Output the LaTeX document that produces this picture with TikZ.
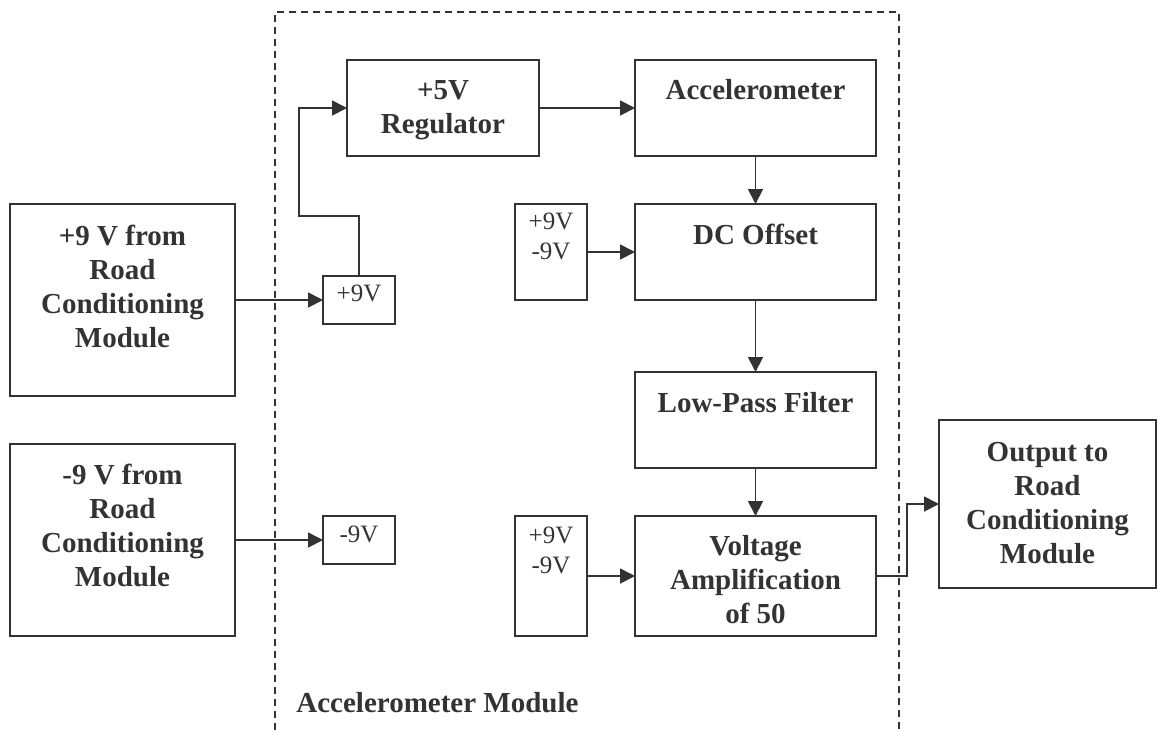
\documentclass[tikz,border=0pt]{standalone}
\usepackage{fontspec}
\setmainfont{Liberation Serif}
\usetikzlibrary{arrows.meta,fit}
\definecolor{ink}{HTML}{333333}
\begin{document}
\begin{tikzpicture}[x=0.5pt,y=-0.5pt,
 box/.style={draw=ink, line width=1pt, inner sep=0pt, outer sep=0pt},
 lbl/.style={text=ink, font=\bfseries\fontsize{14.5}{17}\selectfont, align=center, inner sep=0pt, anchor=north},
 sml/.style={text=ink, font=\fontsize{12.5}{15}\selectfont, align=center, inner sep=0pt, anchor=north},
 arr/.style={draw=ink, line width=0.9pt, -{Triangle[length=7.5pt,width=7.5pt]}},
 frame/.style={draw=ink, line width=0.9pt, dash pattern=on 3.5pt off 2.5pt}]
\useasboundingbox (0,0) rectangle (1159,730);

% boxes
\node[box, fit={(10,204) (235,396)}] (src1) {};
\node[box, fit={(10,444) (235,636)}] (src2) {};
\node[box, fit={(323,276) (395,324)}] (p9) {};
\node[box, fit={(323,516) (395,564)}] (m9) {};
\node[box, fit={(347,60) (539,156)}] (reg) {};
\node[box, fit={(635,60) (876,156)}] (acc) {};
\node[box, fit={(515,204) (587,300)}] (pm1) {};
\node[box, fit={(635,204) (876,300)}] (dc) {};
\node[box, fit={(635,372) (876,468)}] (lpf) {};
\node[box, fit={(515,516) (587,636)}] (pm2) {};
\node[box, fit={(635,516) (876,636)}] (va) {};
\node[box, fit={(939,420) (1156,588)}] (out) {};

% texts
\node[lbl] (src1t) at (122.5,225) {+9 V from\\Road\\Conditioning\\Module};
\node[lbl] (src2t) at (122.5,464) {-9 V from\\Road\\Conditioning\\Module};
\node[lbl] (regt) at (443,80) {+5V\\Regulator};
\node[lbl] (acct) at (755.5,79) {Accelerometer};
\node[lbl] (dct) at (755.5,224) {DC Offset};
\node[lbl] (lpft) at (755.5,392) {Low-Pass Filter};
\node[lbl] (vat) at (755.5,535) {Voltage\\Amplification\\of 50};
\node[lbl] (outt) at (1047.5,442) {Output to\\Road\\Conditioning\\Module};
\node[sml] (p9t) at (359,285) {+9V};
\node[sml] (m9t) at (359,526) {-9V};
\node[sml] (pm1t) at (551,213) {+9V\\-9V};
\node[sml] (pm2t) at (551,527) {+9V\\-9V};
\node[text=ink, font=\bfseries\fontsize{14.5}{17}\selectfont, inner sep=0pt, anchor=base west] (modt) at (296,712) {Accelerometer Module};

% module frame
\draw[frame] (275,730) -- (275,12) -- (899,12) -- (899,730);

% connectors
\coordinate (j1) at (299,216);
\coordinate (j2) at (907,576);
\draw[arr] (src1.east) -- (p9.west);
\draw[arr] (src2.east) -- (m9.west);
\draw[arr] (p9.north) |- (j1) |- (reg.west);
\draw[arr] (reg.east) -- (acc.west);
\draw[arr] (acc.south) -- (dc.north);
\draw[arr] (pm1.east) -- (dc.west);
\draw[arr] (dc.south) -- (lpf.north);
\draw[arr] (lpf.south) -- (va.north);
\draw[arr] (pm2.east) -- (va.west);
\draw[arr] (va.east) -- (j2) |- (out.west);
\end{tikzpicture}
\end{document}
